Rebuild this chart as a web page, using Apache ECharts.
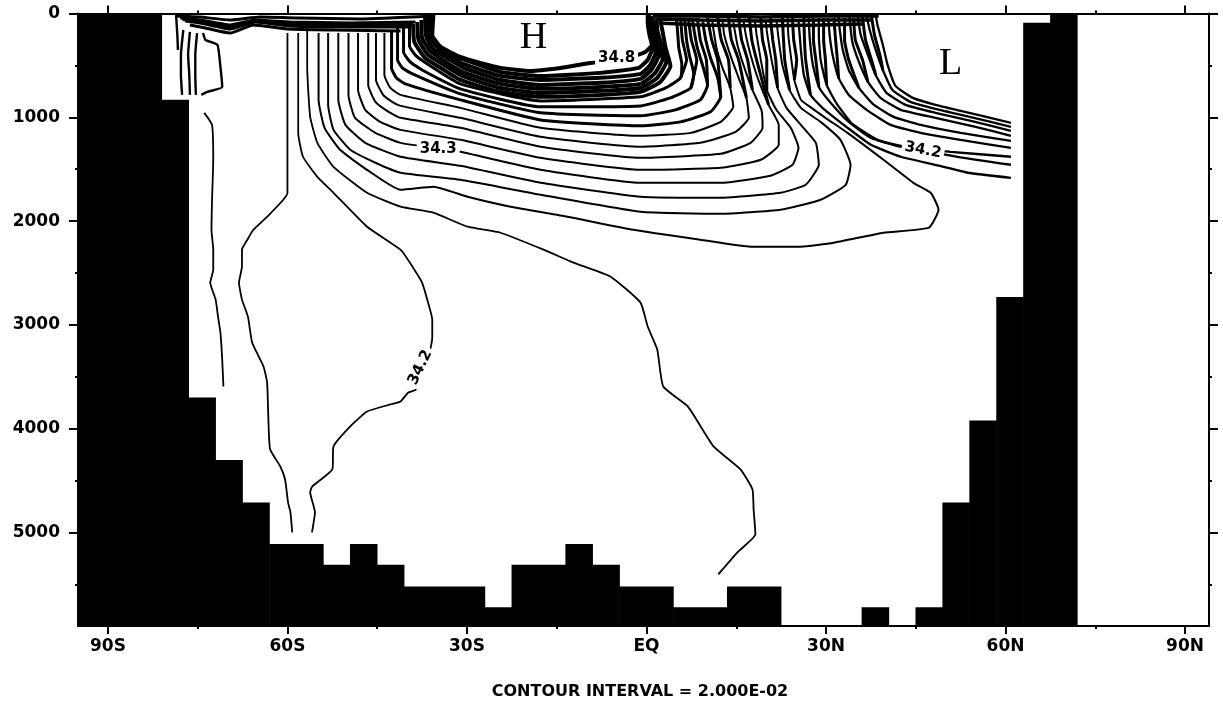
<!DOCTYPE html>
<html>
<head>
<meta charset="utf-8">
<script src="https://cdn.jsdelivr.net/npm/echarts@6/dist/echarts.min.js"></script>
<style>
html,body{margin:0;padding:0;background:#fff;}
#chart{width:1223px;height:709px;}
</style>
</head>
<body>
<div id="chart"></div>
<script>
// ---------- axis data ----------
const latRange = [-95, 94];
const depthRange = [0, 5900];
const tickLat = [-90, -60, -30, 0, 30, 60, 90];
const tickLatText = ['90S', '60S', '30S', 'EQ', '30N', '60N', '90N'];
const minorLat = [-75, -45, -15, 15, 45, 75];
const tickDepth = [0, 1000, 2000, 3000, 4000, 5000];
const minorDepth = [500, 1500, 2500, 3500, 4500, 5500];

// ---------- land / bottom topography: [lat west, lat east, top depth] ----------
const bathyColumns = [
  [-95, -81, 0], [-81, -76.5, 830], [-76.5, -72, 3700], [-72, -67.5, 4300],
  [-67.5, -63, 4710], [-63, -54, 5110], [-54, -49.5, 5310], [-49.5, -45, 5110],
  [-45, -40.5, 5310], [-40.5, -27, 5520], [-27, -22.5, 5720], [-22.5, -13.5, 5310],
  [-13.5, -9, 5110], [-9, -4.5, 5310], [-4.5, 4.5, 5520], [4.5, 13.5, 5720],
  [13.5, 22.5, 5520], [36, 40.5, 5720], [45, 49.5, 5720], [49.5, 54, 4710],
  [54, 58.5, 3920], [58.5, 63, 2730], [63, 67.5, 90], [67.5, 72, 0]
];

// ---------- contour lines: [lat, depth] ----------
const antarcticContours = [
  [[-78.6,24],[-78.4,207],[-78.3,351]],
  [[-77.4,159],[-77.8,399],[-77.8,592],[-77.6,784]],
  [[-76.3,178],[-76.6,399],[-76.4,592],[-76.3,784]],
  [[-75.1,188],[-75.4,399],[-75.4,592],[-75.3,784]],
  [[-74.1,188],[-73.7,255],[-71.7,303],[-71.2,515],[-70.9,707],[-73.4,755],[-74.4,784]]
];

const southSurfaceContours = [
  [[-78.8,24],[-74.6,34],[-69.6,63],[-64.5,34],[-57.9,43],[-47.8,53],[-35.6,24]],
  [[-77.9,43],[-74.6,63],[-69.6,111],[-65.4,63],[-59.5,82],[-49.5,91],[-38.6,82]],
  [[-77.5,58],[-74.6,77],[-69.6,130],[-65.4,72],[-59.5,101],[-49.5,111],[-39.0,106]],
  [[-77.1,72],[-74.6,91],[-69.6,149],[-65.4,82],[-59.5,120],[-49.5,130],[-39.5,130]],
  [[-76.3,111],[-73.7,139],[-69.6,188],[-65.7,111],[-60.0,149],[-52.3,159],[-41.1,168]]
];

const northSurfaceContours = [
  [[1.0,24],[9.0,24],[19.1,34],[29.1,24],[38.8,24]],
  [[1.7,53],[9.0,63],[19.1,72],[29.1,63],[37.5,63]],
  [[2.3,91],[9.0,111],[19.1,120],[29.1,111],[36.1,101]]
];

const deepContours = [
  [[-73.9,957],[-72.6,1073],[-72.4,1409],[-72.6,1794],[-72.7,2083],[-72.4,2275],[-72.4,2468],[-72.9,2593],[-72.0,2756],[-71.6,2920],[-71.2,3073],[-70.9,3333],[-70.7,3593]],
  [[-60.0,188],[-60.0,1727],[-60.7,1794],[-63.4,1958],[-65.7,2083],[-66.7,2179],[-67.6,2275],[-67.6,2438],[-68.1,2593],[-67.6,2756],[-66.6,2920],[-65.9,3170],[-64.0,3400],[-63.4,3554],[-63.2,3882],[-62.9,4198],[-61.2,4362],[-60.4,4487],[-59.9,4709],[-59.5,4805],[-59.2,4998]],
  [[-58.2,188],[-58.2,1150],[-57.4,1380],[-55.0,1573],[-52.3,1727],[-46.7,2054],[-41.1,2275],[-39.0,2448],[-37.5,2593],[-36.5,2785],[-35.8,2948],[-35.8,3122],[-36.8,3400],[-38.5,3622],[-39.8,3651],[-41.1,3737],[-42.8,3766],[-46.7,3834],[-49.5,3978],[-52.3,4170],[-52.5,4391],[-55.9,4559],[-56.2,4613],[-55.4,4805],[-55.9,4998]],
  [[-56.7,159],[-56.7,515],[-56.2,996],[-55.0,1246],[-52.3,1477],[-46.7,1727],[-41.1,1861],[-35.6,1919],[-29.9,2054],[-24.4,2112],[-17.2,2275],[-12.2,2400],[-6.0,2535],[-1.0,2785],[0.2,3015],[1.8,3237],[2.8,3593],[6.9,3785],[11.2,4170],[15.7,4391],[17.7,4583],[17.9,4776],[18.2,5017],[15.2,5190],[12.0,5402]]
];

// outer part of the intermediate-water tongue
const tongueOuterContours = [
  [[-54.8,188],[-54.8,832],[-53.8,1101],[-51.2,1313],[-46.7,1506],[-41.1,1698],[-35.6,1669],[-29.9,1765],[-22.7,1861],[-13.2,1958],[-2.2,2083],[9.0,2179],[17.4,2246],[25.8,2246],[31.3,2208],[39.6,2112],[47.2,2063],[48.8,1890],[47.5,1727],[44.6,1631],[39.6,1409],[33.6,1150],[29.9,1005],[27.1,890],[25.8,832],[24.7,640],[24.1,399],[23.7,207],[23.6,43]],
  [[-53.2,188],[-53.2,880],[-52.3,1121],[-49.5,1313],[-45.3,1438],[-41.1,1534],[-31.1,1602],[-17.7,1746],[-1.0,1910],[12.4,1929],[22.4,1890],[29.1,1794],[33.3,1650],[34.1,1457],[32.4,1217],[29.1,1044],[25.8,909],[23.9,736],[22.7,495],[22.1,255],[21.7,63]],
  [[-51.5,188],[-51.5,832],[-50.3,1073],[-47.0,1246],[-41.1,1380],[-31.1,1467],[-17.7,1631],[-1.0,1765],[12.4,1775],[22.4,1727],[26.6,1650],[28.8,1457],[28.3,1246],[25.8,1073],[23.4,909],[21.9,717],[20.9,447],[20.2,207],[19.9,63]],
  [[-49.8,188],[-49.8,784],[-48.7,1005],[-45.3,1150],[-41.1,1246],[-34.4,1303],[-31.1,1332],[-17.7,1506],[-1.0,1631],[12.4,1631],[20.7,1563],[24.4,1457],[25.4,1294],[24.1,1101],[21.7,928],[20.1,736],[19.1,447],[18.4,207],[18.1,63]],
  [[-48.2,188],[-48.2,736],[-47.0,928],[-44.5,1044],[-41.1,1121],[-31.1,1217],[-17.7,1390],[-1.0,1506],[12.4,1486],[19.1,1409],[22.1,1265],[22.1,1073],[20.4,880],[18.7,640],[17.4,399],[16.6,207],[16.2,63]],
  [[-46.5,188],[-46.5,688],[-45.3,851],[-43.1,947],[-41.1,1005],[-31.1,1101],[-17.7,1284],[-1.0,1390],[12.4,1352],[17.4,1246],[19.4,1101],[19.2,928],[17.7,736],[16.2,495],[15.2,303],[14.5,82]],
  [[-45.2,188],[-45.2,640],[-44.0,784],[-42.5,851],[-41.1,890],[-31.1,1005],[-17.7,1188],[-1.0,1284],[9.0,1246],[14.9,1140],[17.1,1005],[16.7,813],[15.4,620],[14.0,399],[13.0,207],[12.7,63]],
  [[-43.8,188],[-43.8,592],[-42.8,717],[-41.1,784],[-31.1,909],[-17.7,1101],[-1.0,1178],[7.4,1150],[12.4,1044],[14.5,899],[14.0,717],[12.7,524],[11.7,332],[11.0,82]]
];

// inner part of the tongue, closer to the salinity maximum
const tongueInnerContours = [
  [[-42.6,159],[-42.6,524],[-41.8,620],[-40.3,678],[-31.1,832],[-17.7,1025],[-1.0,1082],[5.7,1044],[10.7,947],[12.4,803],[11.9,620],[10.7,428],[9.9,255],[9.4,82]],
  [[-41.6,139],[-41.6,447],[-40.8,524],[-39.1,582],[-31.1,774],[-17.7,957],[-1.0,986],[4.8,928],[9.0,832],[10.2,688],[9.4,505],[8.5,332],[8.0,178],[7.7,63]],
  [[-40.6,130],[-40.6,370],[-39.5,466],[-37.5,544],[-31.1,726],[-17.7,899],[-1.0,890],[4.0,813],[7.4,717],[7.9,582],[7.2,409],[6.7,255],[6.4,63]],
  [[-39.6,111],[-39.6,313],[-38.5,409],[-36.1,505],[-31.1,678],[-17.7,842],[-1.0,803],[3.2,717],[5.7,620],[5.9,486],[5.4,332],[5.2,178],[5.0,43]]
];

// tightly packed shells round the subtropical maximum "H"
const maximumShellContours = [
  [[-39.0,101],[-38.8,274],[-37.0,428],[-34.4,524],[-31.1,640],[-24.4,755],[-17.7,803],[-7.7,784],[-1.0,755],[2.3,659],[4.0,505],[3.2,332],[2.7,178],[2.3,63]],
  [[-38.3,82],[-38.1,255],[-36.5,399],[-34.1,486],[-30.8,601],[-24.4,717],[-17.7,765],[-7.7,745],[-1.0,717],[1.8,620],[3.3,466],[2.5,303],[1.8,159],[1.7,43]],
  [[-37.6,63],[-37.5,236],[-36.0,370],[-33.8,457],[-30.8,563],[-24.4,678],[-17.7,726],[-7.7,707],[-1.0,678],[1.3,582],[2.7,438],[1.8,284],[1.2,139],[1.0,34]],
  [[-37.0,43],[-36.8,226],[-35.5,351],[-33.3,428],[-30.6,524],[-24.4,640],[-17.7,688],[-7.7,668],[-1.0,630],[0.8,544],[2.0,409],[1.3,264],[0.7,130],[0.7,24]],
  [[-36.5,34],[-36.3,216],[-34.9,332],[-32.8,409],[-30.6,486],[-24.4,601],[-17.7,640],[-7.7,620],[-1.0,582],[0.5,505],[1.5,380],[0.8,236],[0.3,101],[0.3,14]],
  [[-36.0,24],[-36.0,216],[-34.4,341],[-31.9,409],[-30.3,447],[-24.4,563],[-17.7,601],[-7.7,572],[-1.3,524],[0.2,447],[1.0,332],[0.5,207],[0.2,82],[0.2,5]],
  [[-35.6,5],[-35.8,207],[-34.4,322],[-31.1,418],[-27.8,476],[-24.4,524],[-19.4,553],[-14.4,524],[-9.4,476],[-4.3,447],[-0.2,370],[1.5,255],[1.0,111],[0.3,5]]
];

// crowded contours rising to the surface north of the salinity maximum
const northCrowdContours = [
  [[5.7,620],[6.7,447],[6.0,255],[5.7,43]],
  [[7.4,717],[8.4,447],[7.5,255],[7.0,43]],
  [[10.2,688],[10.0,447],[9.0,255],[8.5,43]],
  [[12.4,803],[11.9,447],[10.9,255],[10.2,43]],
  [[14.0,717],[13.7,447],[12.5,255],[11.9,43]],
  [[16.7,813],[15.4,447],[14.2,255],[13.7,43]],
  [[17.7,736],[16.9,447],[15.9,255],[15.4,43]],
  [[20.4,880],[18.4,447],[17.6,255],[17.2,43]],
  [[20.1,736],[20.1,447],[19.4,255],[19.1,43]],
  [[21.9,717],[21.6,447],[21.1,255],[20.7,43]],
  [[23.9,736],[23.1,447],[22.9,255],[22.7,43]],
  [[24.7,640],[25.1,447],[24.6,255],[24.4,43]],
  [[27.4,784],[26.6,447],[26.4,255],[26.3,43]],
  [[28.8,707],[28.3,447],[27.9,255],[27.9,43]],
  [[30.1,688],[29.9,447],[29.6,255],[29.6,43]],
  [[32.1,620],[31.9,447],[31.6,255],[31.3,43]],
  [[35.5,717],[33.8,447],[33.1,255],[33.1,43]],
  [[37.0,659],[36.1,447],[34.9,255],[34.6,43]],
  [[38.3,592],[37.6,447],[36.6,255],[36.1,34]],
  [[39.5,544],[39.0,399],[38.1,207],[37.6,24]]
];

const northAtlanticContours = [
  [[60.9,1053],[52.5,938],[48.3,880],[44.5,813],[41.6,697],[40.3,495],[39.5,303],[38.6,111],[38.3,14]],
  [[60.9,1092],[53.3,986],[48.3,919],[44.1,851],[41.1,736],[39.5,544],[38.3,351],[37.3,159],[36.8,24]],
  [[60.9,1130],[54.2,1034],[48.3,957],[43.3,880],[40.1,765],[38.3,592],[37.0,399],[35.8,207],[35.3,24]],
  [[60.9,1178],[55.0,1092],[48.3,1005],[42.5,928],[39.1,813],[37.0,659],[35.5,466],[34.4,274],[33.9,34]],
  [[60.9,1227],[52.5,1150],[45.8,1073],[41.3,996],[37.8,870],[35.5,717],[33.8,544],[32.8,351],[32.3,159],[32.1,34]],
  [[60.9,1294],[52.5,1217],[45.8,1150],[40.8,1073],[36.8,928],[33.8,784],[32.1,620],[31.1,399],[30.6,207],[30.4,43]],
  [[60.9,1380],[50.8,1332],[42.5,1284],[38.6,1217],[34.4,1063],[31.8,870],[30.1,688],[29.1,447],[28.8,207],[28.8,43]],
  [[60.9,1457],[52.0,1380],[42.5,1275],[37.5,1198],[33.8,1044],[30.8,861],[28.8,707],[27.8,495],[27.3,255],[27.1,43]],
  [[60.9,1583],[53.7,1534],[49.7,1477],[42.5,1380],[37.5,1265],[33.6,1101],[29.4,909],[27.4,784],[26.3,592],[25.8,351],[25.4,63]]
];

// ---------- text annotations ----------
const contourLabelText = ['34.3', '34.2', '34.2', '34.8'];
const contourLabelPos = [[-34.8, 1310], [-37.8, 3410], [46.2, 1316], [-5.0, 430]];
const contourLabelAngle = [0, 64, -11, 0];
const extremaText = ['H', 'L'];
const extremaPos = [[-18.9, 236], [50.8, 486]];
const footnote = 'CONTOUR INTERVAL = 2.000E-02';

// ---------- build chart ----------
const FONT = 'DejaVu Sans';
const black = '#000';

function axisBase(extra) {
  return Object.assign({
    type: 'value', gridIndex: 0,
    splitLine: { show: false }, axisPointer: { show: false }
  }, extra);
}
function xAx(position, ticks, len, withLine, withLabel) {
  return axisBase({
    min: latRange[0], max: latRange[1], position: position,
    axisLine: { show: withLine, onZero: false, lineStyle: { color: black, width: 2 } },
    axisTick: { show: true, customValues: ticks, length: len, inside: false, lineStyle: { color: black, width: 2 } },
    axisLabel: withLabel ? {
      show: true, customValues: ticks, margin: 12, color: black,
      fontFamily: FONT, fontWeight: 'bold', fontSize: 17,
      formatter: function (v) { const i = tickLat.indexOf(v); return i >= 0 ? tickLatText[i] : ''; }
    } : { show: false }
  });
}
function yAx(position, ticks, len, withLine, withLabel) {
  return axisBase({
    min: depthRange[0], max: depthRange[1], inverse: true, position: position,
    axisLine: { show: withLine, onZero: false, lineStyle: { color: black, width: 2 } },
    axisTick: { show: true, customValues: ticks, length: len, inside: false, lineStyle: { color: black, width: 2 } },
    axisLabel: withLabel ? {
      show: true, customValues: ticks, margin: 18, color: black,
      fontFamily: FONT, fontWeight: 'bold', fontSize: 17,
      formatter: function (v) { return String(v); }
    } : { show: false }
  });
}

const lineGroups = [
  { lines: antarcticContours, width: 2.4 },
  { lines: southSurfaceContours, width: 3 },
  { lines: northSurfaceContours, width: 3.5 },
  { lines: deepContours, width: 1.8 },
  { lines: tongueOuterContours, width: 2 },
  { lines: tongueInnerContours, width: 3 },
  { lines: maximumShellContours, width: 4 },
  { lines: northCrowdContours, width: 3 },
  { lines: northAtlanticContours, width: 2.3 }
];
const series = [];

series.push({
  type: 'custom', name: 'topography', xAxisIndex: 0, yAxisIndex: 0,
  data: bathyColumns, encode: { x: [0, 1], y: [2] }, clip: true, z: 3, silent: true,
  renderItem: function (params, api) {
    const a = api.coord([api.value(0), api.value(2)]);
    const b = api.coord([api.value(1), depthRange[1]]);
    return { type: 'rect', shape: { x: a[0] - 0.3, y: a[1], width: b[0] - a[0] + 0.6, height: b[1] - a[1] + 1 }, style: { fill: black } };
  }
});

lineGroups.forEach(function (group) {
  group.lines.forEach(function (pts) {
    series.push({
      type: 'line', xAxisIndex: 0, yAxisIndex: 0, data: pts,
      symbol: 'none', showSymbol: false, smooth: 0.15, silent: true, z: 2,
      lineStyle: { color: black, width: group.width, opacity: 1 }
    });
  });
});

series.push({
  type: 'scatter', xAxisIndex: 0, yAxisIndex: 0, z: 10, silent: true,
  symbolSize: 0, itemStyle: { color: '#fff', opacity: 1 },
  data: contourLabelPos.map(function (p, i) {
    return {
      value: p,
      label: {
        show: true, position: 'inside', formatter: contourLabelText[i], rotate: contourLabelAngle[i],
        color: '#000', opacity: 1, fontFamily: FONT, fontWeight: 'bold', fontSize: 15,
        backgroundColor: '#fff', padding: [0, 3]
      }
    };
  })
});

series.push({
  type: 'scatter', xAxisIndex: 0, yAxisIndex: 0, z: 10, silent: true,
  symbolSize: 0, itemStyle: { color: '#fff', opacity: 1 },
  data: extremaPos.map(function (p, i) {
    return {
      value: p,
      label: { show: true, position: 'inside', formatter: extremaText[i], color: '#000', opacity: 1, fontFamily: 'Liberation Serif', fontSize: 38 }
    };
  })
});

const option = {
  animation: false,
  backgroundColor: '#fff',
  textStyle: { fontFamily: FONT },
  grid: { left: 78, right: 14, top: 13.5, bottom: 83, containLabel: false, outerBoundsMode: 'none' },
  xAxis: [
    xAx('bottom', tickLat, 8, true, true),
    xAx('bottom', minorLat, 3, false, false),
    xAx('top', tickLat, 8, true, false),
    xAx('top', minorLat, 3, false, false)
  ],
  yAxis: [
    yAx('left', tickDepth, 9, true, true),
    yAx('left', minorDepth, 3, false, false),
    yAx('right', tickDepth, 9, true, false),
    yAx('right', minorDepth, 3, false, false)
  ],
  graphic: [{
    type: 'text', x: 640, y: 692, z: 20,
    style: { text: footnote, fill: black, font: 'bold 16px "DejaVu Sans"', align: 'center', verticalAlign: 'middle' }
  }],
  series: series
};

const chart = echarts.init(document.getElementById('chart'), null, { renderer: 'canvas' });
chart.setOption(option);
</script>
</body>
</html>
